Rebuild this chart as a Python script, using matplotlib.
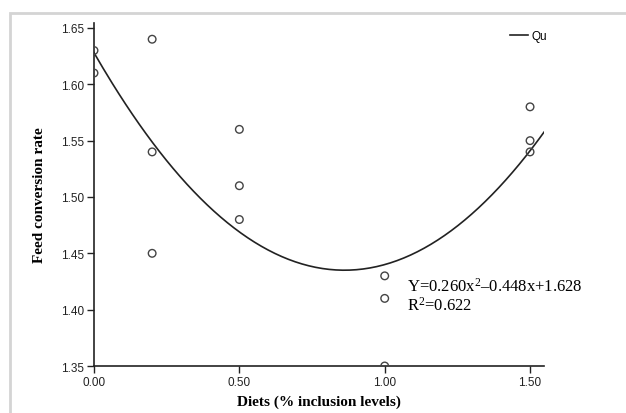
import numpy as np
import matplotlib
matplotlib.use("Agg")
import matplotlib.pyplot as plt
from matplotlib.patches import Rectangle

# observed feed conversion rates per inclusion level
diet_levels = [0.0, 0.0, 0.2, 0.2, 0.2, 0.5, 0.5, 0.5, 1.0, 1.0, 1.0, 1.5, 1.5, 1.5]
fcr_values = [1.63, 1.61, 1.64, 1.54, 1.45, 1.56, 1.51, 1.48, 1.43, 1.41, 1.35, 1.58, 1.55, 1.54]

# quadratic fit as printed on the chart
quad_coef = [0.260, -0.448, 1.628]
x_ticks = [0.0, 0.5, 1.0, 1.5]
y_ticks = [1.35, 1.40, 1.45, 1.50, 1.55, 1.60, 1.65]

plt.rcParams["mathtext.fontset"] = "custom"
plt.rcParams["mathtext.rm"] = "Liberation Serif"
plt.rcParams["mathtext.it"] = "Liberation Serif:italic"

fig = plt.figure(figsize=(6.26, 4.14), dpi=100)
fig.patch.set_facecolor("white")

# light grey frame around the plot area
fig.patches.append(Rectangle((10 / 626, -0.05), 1.2, 1 - 14 / 414 + 0.05,
                             transform=fig.transFigure, fill=False,
                             edgecolor="#d4d4d4", linewidth=2))

ax = fig.add_axes([94 / 626, 1 - 367 / 414, (544 - 94) / 626, (367 - 24) / 414])
ax.set_xlim(0, 1.548)
ax.set_ylim(1.35, 1.6544)

ax.scatter(diet_levels, fcr_values, s=30, facecolors="none",
           edgecolors="#444444", linewidths=1, zorder=3)

xs = np.linspace(0, 1.548, 200)
ax.plot(xs, np.polyval(quad_coef, xs), color="#222222", linewidth=1.2, label="Qu")

ax.set_xticks(x_ticks)
ax.set_xticklabels([f"{v:.2f}" for v in x_ticks])
ax.set_yticks(y_ticks)
ax.set_yticklabels([f"{v:.2f}" for v in y_ticks])
ax.tick_params(direction="out", length=5, width=1, labelsize=8.5, pad=2,
               colors="#222222", labelfontfamily="Liberation Sans")

for side in ("top", "right"):
    ax.spines[side].set_visible(False)
for side in ("left", "bottom"):
    ax.spines[side].set_color("#222222")
    ax.spines[side].set_linewidth(1.2)

ax.set_xlabel("Diets (% inclusion levels)", fontfamily="Liberation Serif",
              fontweight="bold", fontsize=11, labelpad=5)
ax.set_ylabel("Feed conversion rate", fontfamily="Liberation Serif",
              fontweight="bold", fontsize=11, labelpad=11)

ax.text(1.078, 1.4215, "Y=0.260x$^{2}$\u20130.448x+1.628",
        fontfamily="Liberation Serif", fontsize=12, va="center")
ax.text(1.078, 1.404, "R$^{2}$=0.622",
        fontfamily="Liberation Serif", fontsize=12, va="center")

ax.legend(loc="upper right", bbox_to_anchor=(1.03, 1.01), frameon=False,
          handlelength=1.5, handletextpad=0.3,
          prop={"family": "Liberation Sans", "size": 8.5})

fig.savefig("out.png", dpi=100)
